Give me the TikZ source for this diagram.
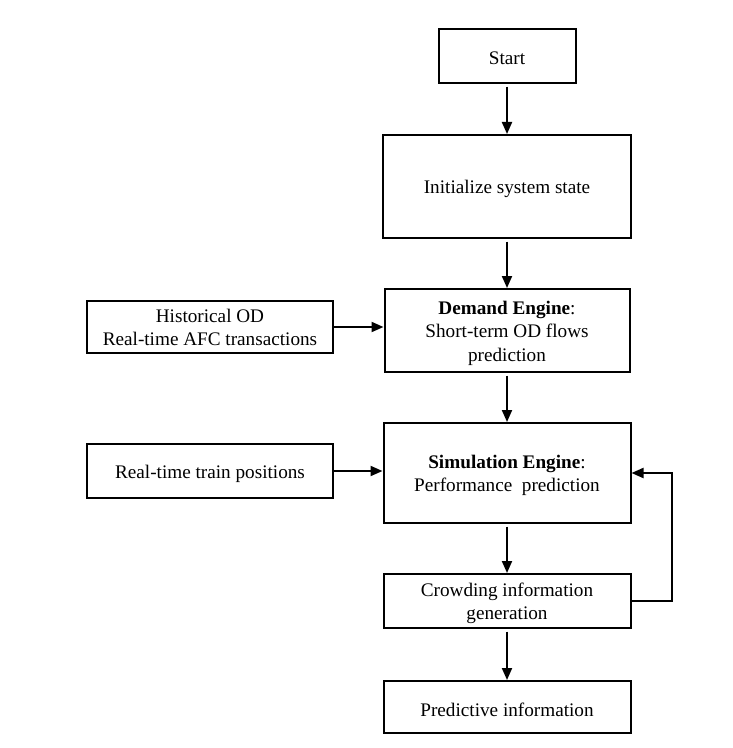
\documentclass[tikz,border=0pt]{standalone}
\usepackage{fontspec}
\setmainfont{Liberation Serif}
\usetikzlibrary{arrows.meta}
\newcommand{\lowered}[1]{\raisebox{-2pt}[\height][\depth]{#1}}
\begin{document}
\begin{tikzpicture}[x=0.75pt,y=-0.75pt,
  box/.style={draw,line width=1.5pt,rectangle,align=center,inner sep=0pt,font=\fontsize{14.4}{17.4}\selectfont},
  flow/.style={line width=1.5pt,-{Triangle[length=9pt,width=7.5pt]}},
  down/.style={flow,shorten <=2pt}]
\useasboundingbox (0,0) rectangle (732,748);
\fill[white] (0,0) rectangle (732,748);
% main column
\node[box,minimum width=102.75pt,minimum height=40.5pt] (start) at (507,56) {\lowered{Start}};
\node[box,minimum width=186pt,minimum height=77.25pt] (init) at (507,186.5) {\lowered{Initialize system state}};
\node[box,minimum width=183.75pt,minimum height=62.25pt] (demand) at (507,330.5)
  {\lowered{\begin{tabular}{@{}c@{}}\textbf{Demand Engine}:\\Short-term OD flows\\prediction\end{tabular}}};
\node[box,minimum width=185.25pt,minimum height=75pt] (sim) at (507,473)
  {\lowered{\begin{tabular}{@{}c@{}}\textbf{Simulation Engine}:\\Performance\hspace{0.5em}prediction\end{tabular}}};
\node[box,minimum width=185.25pt,minimum height=40.5pt] (crowd) at (507,601)
  {\lowered{\begin{tabular}{@{}c@{}}Crowding information\\generation\end{tabular}}};
\node[box,minimum width=185.25pt,minimum height=39pt] (pred) at (507,707) {\lowered{Predictive information}};
% data inputs
\node[box,minimum width=184.5pt,minimum height=39pt] (hist) at (210,327)
  {\lowered{\begin{tabular}{@{}c@{}}Historical OD\\Real-time AFC transactions\end{tabular}}};
\node[box,minimum width=184.5pt,minimum height=40.5pt] (train) at (210,471) {\lowered{Real-time train positions}};
% connectors
\draw[down] (start.south) -- (init.north);
\draw[down] (init.south) -- (demand.north);
\draw[down] (demand.south) -- (sim.north);
\draw[down] (sim.south) -- (crowd.north);
\draw[down] (crowd.south) -- (pred.north);
\draw[flow] (hist.east) -- (hist.east -| demand.west);
\draw[flow] (train.east) -- (train.east -| sim.west);
\coordinate (loop) at (672,601);
\draw[flow] (crowd.east) -- (loop) |- (sim.east);
\end{tikzpicture}
\end{document}
